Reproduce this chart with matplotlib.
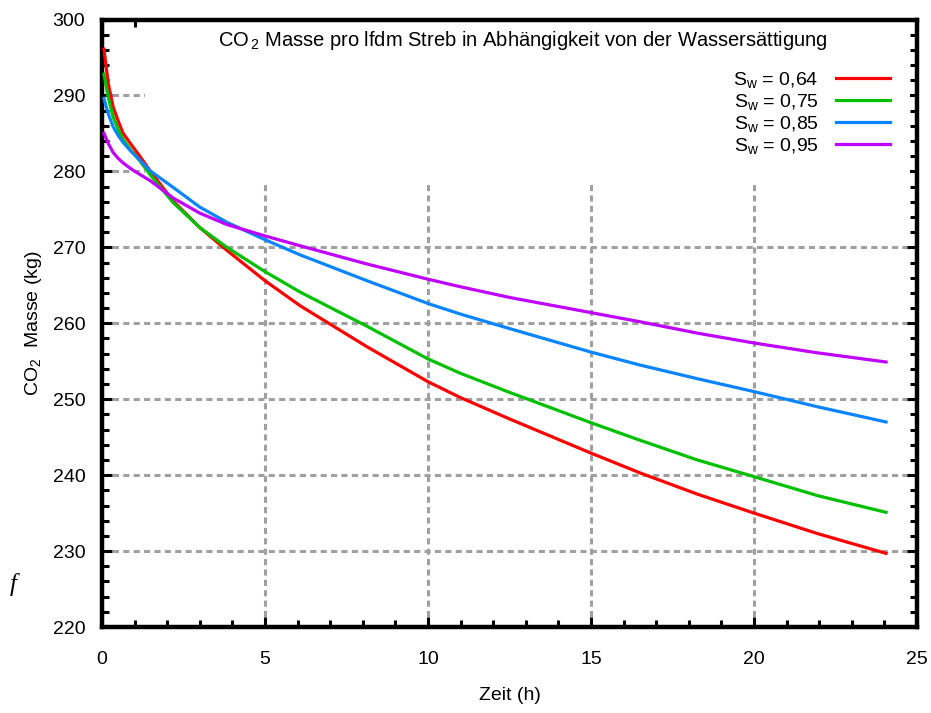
import matplotlib
matplotlib.use("Agg")
import matplotlib.pyplot as plt
from matplotlib.ticker import MultipleLocator
from matplotlib.patches import Rectangle

# Time axis (h) and CO2 mass (kg) per water saturation
zeit = [0.06, 0.19, 0.34, 0.5, 0.65, 0.9, 1.16, 1.47, 2.18, 3.0, 3.83, 5.0, 6.08, 8.13,
        10.0, 11.0, 12.5, 15.0, 16.5, 18.26, 20.0, 21.95, 24.05]
masse_064 = [296.1, 291.6, 288.5, 286.6, 285.0, 283.5, 282.0, 280.1, 276.1, 272.6, 269.6,
             265.6, 262.3, 256.9, 252.3, 250.2, 247.4, 242.9, 240.3, 237.5, 235.0, 232.3, 229.7]
masse_075 = [292.8, 289.8, 287.2, 285.5, 284.2, 282.7, 281.4, 279.6, 275.9, 272.6, 270.0,
             266.8, 264.1, 259.6, 255.3, 253.4, 250.9, 246.9, 244.6, 242.0, 239.8, 237.3, 235.1]
masse_085 = [289.6, 287.6, 285.9, 284.7, 283.8, 282.6, 281.5, 280.1, 277.9, 275.3, 273.3,
             271.0, 269.0, 265.6, 262.6, 261.2, 259.3, 256.2, 254.5, 252.7, 251.0, 249.0, 247.0]
masse_095 = [285.0, 283.7, 282.5, 281.7, 281.1, 280.3, 279.6, 278.8, 276.5, 274.5, 273.0,
             271.5, 270.2, 267.8, 265.8, 264.8, 263.4, 261.4, 260.2, 258.7, 257.4, 256.1, 254.9]

serien = [
    ("0,64", masse_064, "#ff0000"),
    ("0,75", masse_075, "#00c000"),
    ("0,85", masse_085, "#0a84ff"),
    ("0,95", masse_095, "#c000ff"),
]

FONT = ["Liberation Sans", "DejaVu Sans"]
plt.rcParams["font.family"] = FONT
plt.rcParams["mathtext.fontset"] = "custom"
plt.rcParams["mathtext.rm"] = "Liberation Sans"
plt.rcParams["mathtext.it"] = "Liberation Sans"
plt.rcParams["mathtext.bf"] = "Liberation Sans"

fig = plt.figure(figsize=(9.31, 7.13), dpi=100)
ax = fig.add_axes([102 / 931, 1 - 627 / 713, (917 - 102) / 931, (627 - 19.5) / 713])

ax.set_xlim(0, 25)
ax.set_ylim(220, 300)

# grid behind a white panel carrying title and legend
ax.grid(True, which="major", color="#a0a0a0", linestyle=(0, (2, 1.4)), linewidth=2.2, zorder=0)
ax.set_axisbelow(True)
ax.add_patch(Rectangle((1.31, 278.4), 24.8 - 1.31, 300 - 278.4, facecolor="white",
                       edgecolor="none", zorder=1))

for label, werte, farbe in serien:
    ax.plot(zeit, werte, color=farbe, linewidth=2.3, zorder=3,
            label=r"S$_{\mathrm{w}}$ = " + label)

ax.xaxis.set_major_locator(MultipleLocator(5))
ax.xaxis.set_minor_locator(MultipleLocator(1))
ax.yaxis.set_major_locator(MultipleLocator(10))
ax.yaxis.set_minor_locator(MultipleLocator(2))
ax.tick_params(which="both", direction="in", top=True, right=True, width=2.2,
               labelsize=14, colors="black")
ax.tick_params(which="major", length=7)
ax.tick_params(which="minor", length=5)
ax.tick_params(axis="x", which="major", pad=17)
ax.tick_params(axis="y", which="major", pad=12)
for s in ax.spines.values():
    s.set_linewidth(3.2)

ax.set_xlabel("Zeit (h)", fontsize=14, labelpad=14)
ax.set_ylabel(r"CO$_2$  Masse (kg)", fontsize=14, labelpad=6)

ax.text(0.516, 0.985, r"CO$_{\,2}$ Masse pro lfdm Streb in Abhängigkeit von der Wassersättigung",
        transform=ax.transAxes, ha="center", va="top", fontsize=14.5, zorder=4)

leg = ax.legend(loc="upper right", bbox_to_anchor=(0.977, 0.93), frameon=False,
                fontsize=14, markerfirst=False, handlelength=2.8, handletextpad=0.9,
                labelspacing=0.1, borderaxespad=0)
leg.set_zorder(4)
for t in leg.get_texts():
    t.set_ha("right")

fig.text(13 / 931, 1 - 585 / 713, "f", fontsize=18, family="Liberation Serif",
         style="italic", ha="center", va="center")

fig.savefig("out.png", dpi=100)
